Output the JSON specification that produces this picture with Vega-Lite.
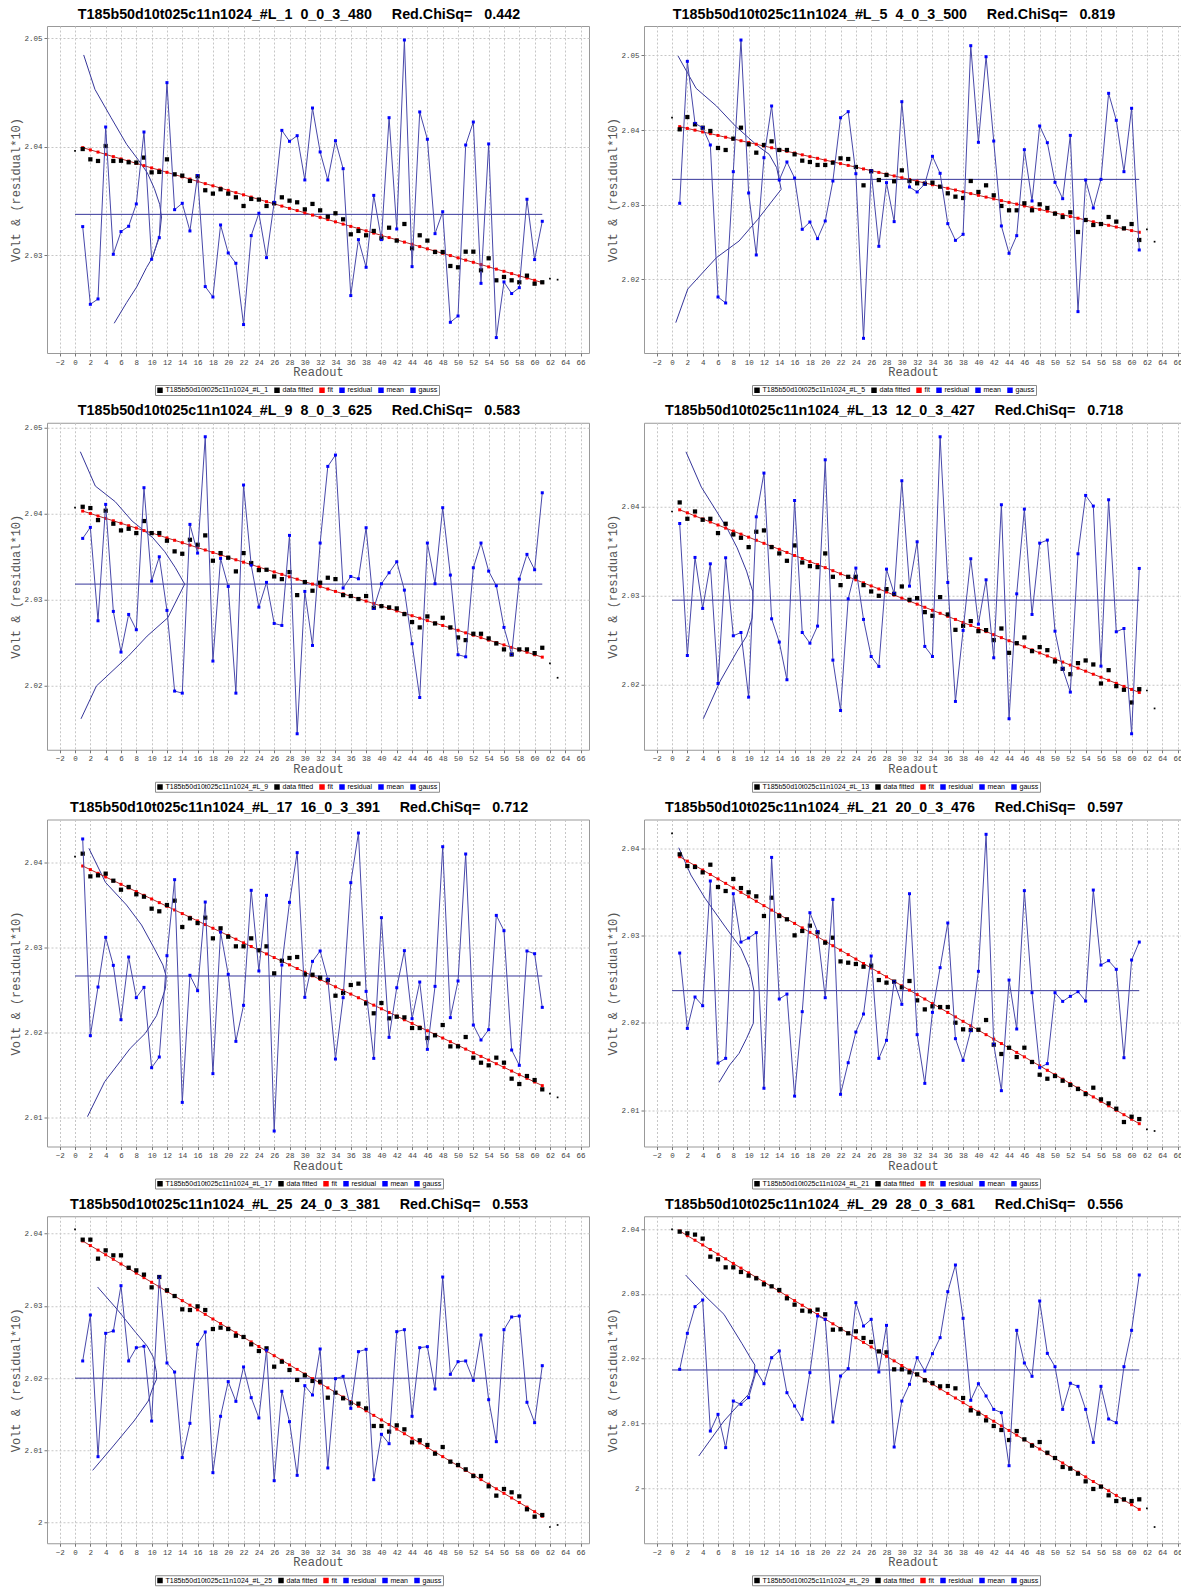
{
"$schema": "https://vega.github.io/schema/vega-lite/v6.json",
"background": "white",
"padding": {"left": 8, "top": 7, "right": 0, "bottom": 0},
"columns": 2,
"spacing": {"row": 69.75, "column": 55},
"bounds": "flush",
"resolve": {"scale": {"color": "independent", "x": "independent", "y": "independent"}, "legend": {"color": "independent"}, "axis": {"x": "independent", "y": "independent"}},
"datasets": {
"p1": [{"x":0,"d":2.0396},{"x":1,"d":2.03978,"f":2.03991,"r":2.03263},{"x":2,"d":2.03883,"f":2.0397,"r":2.02547},{"x":3,"d":2.03868,"f":2.0395,"r":2.02596},{"x":4,"d":2.04006,"f":2.03929,"r":2.04181},{"x":5,"d":2.03868,"f":2.03908,"r":2.03008},{"x":6,"d":2.0387,"f":2.03887,"r":2.03217},{"x":7,"d":2.03856,"f":2.03867,"r":2.03266},{"x":8,"d":2.03853,"f":2.03846,"r":2.03472},{"x":9,"d":2.03899,"f":2.03825,"r":2.04135},{"x":10,"d":2.03763,"f":2.03804,"r":2.02962},{"x":11,"d":2.03767,"f":2.03784,"r":2.03161},{"x":12,"d":2.03883,"f":2.03763,"r":2.0459},{"x":13,"d":2.03745,"f":2.03742,"r":2.03419},{"x":14,"d":2.03733,"f":2.03722,"r":2.03478},{"x":15,"d":2.03684,"f":2.03701,"r":2.03223},{"x":16,"d":2.03727,"f":2.0368,"r":2.03733},{"x":17,"d":2.03598,"f":2.03659,"r":2.0271},{"x":18,"d":2.03567,"f":2.03639,"r":2.02614},{"x":19,"d":2.03607,"f":2.03618,"r":2.03278},{"x":20,"d":2.03567,"f":2.03597,"r":2.0302},{"x":21,"d":2.03533,"f":2.03576,"r":2.02925},{"x":22,"d":2.03453,"f":2.03556,"r":2.0236},{"x":23,"d":2.03518,"f":2.03535,"r":2.0318},{"x":24,"d":2.03512,"f":2.03514,"r":2.03386},{"x":25,"d":2.03453,"f":2.03493,"r":2.02977},{"x":26,"d":2.03478,"f":2.03473,"r":2.03487},{"x":27,"d":2.03533,"f":2.03452,"r":2.0415},{"x":28,"d":2.03502,"f":2.03431,"r":2.04049},{"x":29,"d":2.03487,"f":2.03411,"r":2.04101},{"x":30,"d":2.03422,"f":2.0339,"r":2.03693},{"x":31,"d":2.03472,"f":2.03369,"r":2.04356},{"x":32,"d":2.03413,"f":2.03348,"r":2.03951},{"x":33,"d":2.03355,"f":2.03328,"r":2.03693},{"x":34,"d":2.03386,"f":2.03307,"r":2.04055},{"x":35,"d":2.0333,"f":2.03286,"r":2.03797},{"x":36,"d":2.03192,"f":2.03265,"r":2.02627},{"x":37,"d":2.03223,"f":2.03245,"r":2.03143},{"x":38,"d":2.03183,"f":2.03224,"r":2.02888},{"x":39,"d":2.03223,"f":2.03203,"r":2.03551},{"x":40,"d":2.03155,"f":2.03182,"r":2.03143},{"x":41,"d":2.03253,"f":2.03162,"r":2.04267},{"x":42,"d":2.03134,"f":2.03141,"r":2.03241},{"x":43,"d":2.03287,"f":2.0312,"r":2.04983},{"x":44,"d":2.03063,"f":2.031,"r":2.02894},{"x":45,"d":2.03183,"f":2.03079,"r":2.0432},{"x":46,"d":2.03134,"f":2.03058,"r":2.04068},{"x":47,"d":2.03029,"f":2.03037,"r":2.03198},{"x":48,"d":2.03029,"f":2.03017,"r":2.034},{"x":49,"d":2.029,"f":2.02996,"r":2.02381},{"x":50,"d":2.02888,"f":2.02975,"r":2.02439},{"x":51,"d":2.03032,"f":2.02954,"r":2.04015},{"x":52,"d":2.03032,"f":2.02934,"r":2.04227},{"x":53,"d":2.0286,"f":2.02913,"r":2.0274},{"x":54,"d":2.02971,"f":2.02892,"r":2.04025},{"x":55,"d":2.02768,"f":2.02871,"r":2.0224},{"x":56,"d":2.02799,"f":2.02851,"r":2.02753},{"x":57,"d":2.02768,"f":2.0283,"r":2.02646},{"x":58,"d":2.0275,"f":2.02809,"r":2.027},{"x":59,"d":2.02811,"f":2.02789,"r":2.03515},{"x":60,"d":2.02737,"f":2.02768,"r":2.02959},{"x":61,"d":2.0275,"f":2.02747,"r":2.03312},{"x":62,"d":2.02783},{"x":63,"d":2.02774}],
"p2": [{"x":0,"d":2.04165},{"x":1,"d":2.04009,"f":2.04045,"r":2.03017},{"x":2,"d":2.04174,"f":2.04021,"r":2.04921},{"x":3,"d":2.04076,"f":2.03998,"r":2.04089},{"x":4,"d":2.04031,"f":2.03974,"r":2.04031},{"x":5,"d":2.03987,"f":2.03951,"r":2.03799},{"x":6,"d":2.03759,"f":2.03927,"r":2.0176},{"x":7,"d":2.03732,"f":2.03903,"r":2.0168},{"x":8,"d":2.03884,"f":2.0388,"r":2.03441},{"x":9,"d":2.04031,"f":2.03856,"r":2.05207},{"x":10,"d":2.03808,"f":2.03832,"r":2.03155},{"x":11,"d":2.03696,"f":2.03809,"r":2.02324},{"x":12,"d":2.03799,"f":2.03785,"r":2.03629},{"x":13,"d":2.03848,"f":2.03762,"r":2.04322},{"x":14,"d":2.03732,"f":2.03738,"r":2.03329},{"x":15,"d":2.03732,"f":2.03714,"r":2.03571},{"x":16,"d":2.03674,"f":2.03691,"r":2.03356},{"x":17,"d":2.03589,"f":2.03667,"r":2.02668},{"x":18,"d":2.03571,"f":2.03643,"r":2.02766},{"x":19,"d":2.03531,"f":2.0362,"r":2.02543},{"x":20,"d":2.03531,"f":2.03596,"r":2.0278},{"x":21,"d":2.03562,"f":2.03573,"r":2.03316},{"x":22,"d":2.0362,"f":2.03549,"r":2.04165},{"x":23,"d":2.03611,"f":2.03525,"r":2.04246},{"x":24,"d":2.03504,"f":2.03502,"r":2.03414},{"x":25,"d":2.03258,"f":2.03478,"r":2.01206},{"x":26,"d":2.03446,"f":2.03455,"r":2.0345},{"x":27,"d":2.03329,"f":2.03431,"r":2.0244},{"x":28,"d":2.03397,"f":2.03407,"r":2.03294},{"x":29,"d":2.03312,"f":2.03384,"r":2.02771},{"x":30,"d":2.03459,"f":2.0336,"r":2.0438},{"x":31,"d":2.03316,"f":2.03336,"r":2.03236},{"x":32,"d":2.03285,"f":2.03313,"r":2.03169},{"x":33,"d":2.0328,"f":2.03289,"r":2.03276},{"x":34,"d":2.03294,"f":2.03266,"r":2.03647},{"x":35,"d":2.0324,"f":2.03242,"r":2.03419},{"x":36,"d":2.03151,"f":2.03218,"r":2.02744},{"x":37,"d":2.03106,"f":2.03195,"r":2.0252},{"x":38,"d":2.03088,"f":2.03171,"r":2.02601},{"x":39,"d":2.03316,"f":2.03147,"r":2.05131},{"x":40,"d":2.03169,"f":2.03124,"r":2.03835},{"x":41,"d":2.03258,"f":2.031,"r":2.04983},{"x":42,"d":2.03124,"f":2.03077,"r":2.03852},{"x":43,"d":2.02981,"f":2.03053,"r":2.02713},{"x":44,"d":2.02923,"f":2.03029,"r":2.02346},{"x":45,"d":2.02923,"f":2.03006,"r":2.02583},{"x":46,"d":2.03017,"f":2.02982,"r":2.03736},{"x":47,"d":2.02923,"f":2.02958,"r":2.03048},{"x":48,"d":2.03003,"f":2.02935,"r":2.04054},{"x":49,"d":2.02954,"f":2.02911,"r":2.0383},{"x":50,"d":2.02878,"f":2.02888,"r":2.03298},{"x":51,"d":2.02833,"f":2.02864,"r":2.03079},{"x":52,"d":2.02896,"f":2.0284,"r":2.03928},{"x":53,"d":2.02632,"f":2.02817,"r":2.01564},{"x":54,"d":2.02793,"f":2.02793,"r":2.03329},{"x":55,"d":2.02726,"f":2.02769,"r":2.02954},{"x":56,"d":2.02739,"f":2.02746,"r":2.03338},{"x":57,"d":2.02833,"f":2.02722,"r":2.04492},{"x":58,"d":2.02771,"f":2.02699,"r":2.0413},{"x":59,"d":2.02681,"f":2.02675,"r":2.03441},{"x":60,"d":2.02739,"f":2.02651,"r":2.04291},{"x":61,"d":2.02525,"f":2.02628,"r":2.02391},{"x":62,"d":2.02668},{"x":63,"d":2.02502}],
"p3": [{"x":0,"d":2.0407},{"x":1,"d":2.04081,"f":2.04031,"r":2.03713},{"x":2,"d":2.04066,"f":2.04003,"r":2.03841},{"x":3,"d":2.03926,"f":2.03974,"r":2.02754},{"x":4,"d":2.04035,"f":2.03946,"r":2.04109},{"x":5,"d":2.03884,"f":2.03918,"r":2.02863},{"x":6,"d":2.03806,"f":2.03889,"r":2.0239},{"x":7,"d":2.03825,"f":2.03861,"r":2.02828},{"x":8,"d":2.03775,"f":2.03833,"r":2.0265},{"x":9,"d":2.03915,"f":2.03804,"r":2.04303},{"x":10,"d":2.03775,"f":2.03776,"r":2.03216},{"x":11,"d":2.03775,"f":2.03748,"r":2.03499},{"x":12,"d":2.03686,"f":2.03719,"r":2.02875},{"x":13,"d":2.03562,"f":2.03691,"r":2.01936},{"x":14,"d":2.03534,"f":2.03663,"r":2.01912},{"x":15,"d":2.03697,"f":2.03634,"r":2.03876},{"x":16,"d":2.03639,"f":2.03606,"r":2.03542},{"x":17,"d":2.03748,"f":2.03578,"r":2.04896},{"x":18,"d":2.03453,"f":2.03549,"r":2.02285},{"x":19,"d":2.03542,"f":2.03521,"r":2.0348},{"x":20,"d":2.03488,"f":2.03493,"r":2.03154},{"x":21,"d":2.03329,"f":2.03464,"r":2.01912},{"x":22,"d":2.03542,"f":2.03436,"r":2.04334},{"x":23,"d":2.03426,"f":2.03408,"r":2.03402},{"x":24,"d":2.03344,"f":2.03379,"r":2.02913},{"x":25,"d":2.03348,"f":2.03351,"r":2.03201},{"x":26,"d":2.0327,"f":2.03323,"r":2.02723},{"x":27,"d":2.03239,"f":2.03294,"r":2.027},{"x":28,"d":2.03321,"f":2.03266,"r":2.03748},{"x":29,"d":2.03053,"f":2.03238,"r":2.01439},{"x":30,"d":2.03205,"f":2.03209,"r":2.03096},{"x":31,"d":2.03104,"f":2.03181,"r":2.02467},{"x":32,"d":2.03197,"f":2.03153,"r":2.03659},{"x":33,"d":2.03255,"f":2.03124,"r":2.04551},{"x":34,"d":2.03239,"f":2.03096,"r":2.04683},{"x":35,"d":2.03053,"f":2.03068,"r":2.03135},{"x":36,"d":2.03042,"f":2.03039,"r":2.0327},{"x":37,"d":2.03007,"f":2.03011,"r":2.03243},{"x":38,"d":2.03042,"f":2.02983,"r":2.03837},{"x":39,"d":2.02906,"f":2.02954,"r":2.02898},{"x":40,"d":2.02925,"f":2.02926,"r":2.03185},{"x":41,"d":2.0291,"f":2.02898,"r":2.03313},{"x":42,"d":2.02898,"f":2.02869,"r":2.03441},{"x":43,"d":2.02832,"f":2.02841,"r":2.03111},{"x":44,"d":2.02739,"f":2.02813,"r":2.02487},{"x":45,"d":2.02677,"f":2.02784,"r":2.01861},{"x":46,"d":2.02805,"f":2.02756,"r":2.03659},{"x":47,"d":2.02723,"f":2.02728,"r":2.03185},{"x":48,"d":2.02789,"f":2.02699,"r":2.0407},{"x":49,"d":2.02677,"f":2.02671,"r":2.03286},{"x":50,"d":2.0256,"f":2.02643,"r":2.02359},{"x":51,"d":2.02529,"f":2.02614,"r":2.02335},{"x":52,"d":2.02603,"f":2.02586,"r":2.03371},{"x":53,"d":2.02603,"f":2.02558,"r":2.03659},{"x":54,"d":2.02549,"f":2.02529,"r":2.03332},{"x":55,"d":2.0249,"f":2.02501,"r":2.03162},{"x":56,"d":2.02421,"f":2.02473,"r":2.02677},{"x":57,"d":2.02362,"f":2.02444,"r":2.02362},{"x":58,"d":2.02421,"f":2.02416,"r":2.03239},{"x":59,"d":2.02421,"f":2.02388,"r":2.03527},{"x":60,"d":2.02378,"f":2.02359,"r":2.03348},{"x":61,"d":2.0244,"f":2.02331,"r":2.04244},{"x":62,"d":2.02258},{"x":63,"d":2.02091}],
"p4": [{"x":0,"d":2.03947},{"x":1,"d":2.04049,"f":2.03966,"r":2.03812},{"x":2,"d":2.03865,"f":2.03932,"r":2.02326},{"x":3,"d":2.03947,"f":2.03897,"r":2.0343},{"x":4,"d":2.03854,"f":2.03863,"r":2.02856},{"x":5,"d":2.03865,"f":2.03829,"r":2.03358},{"x":6,"d":2.03704,"f":2.03795,"r":2.02011},{"x":7,"d":2.03809,"f":2.0376,"r":2.03426},{"x":8,"d":2.03689,"f":2.03726,"r":2.02548},{"x":9,"d":2.03651,"f":2.03692,"r":2.02585},{"x":10,"d":2.03546,"f":2.03658,"r":2.01857},{"x":11,"d":2.03719,"f":2.03623,"r":2.03887},{"x":12,"d":2.03734,"f":2.03589,"r":2.04379},{"x":13,"d":2.03546,"f":2.03555,"r":2.02739},{"x":14,"d":2.03475,"f":2.03521,"r":2.02477},{"x":15,"d":2.03392,"f":2.03486,"r":2.02053},{"x":16,"d":2.03565,"f":2.03452,"r":2.04071},{"x":17,"d":2.03373,"f":2.03418,"r":2.02585},{"x":18,"d":2.03332,"f":2.03383,"r":2.02465},{"x":19,"d":2.03321,"f":2.03349,"r":2.02657},{"x":20,"d":2.03475,"f":2.03315,"r":2.04529},{"x":21,"d":2.03212,"f":2.03281,"r":2.02274},{"x":22,"d":2.03118,"f":2.03246,"r":2.01707},{"x":23,"d":2.03212,"f":2.03212,"r":2.02964},{"x":24,"d":2.03212,"f":2.03178,"r":2.0331},{"x":25,"d":2.03118,"f":2.03144,"r":2.02732},{"x":26,"d":2.03047,"f":2.03109,"r":2.02315},{"x":27,"d":2.02998,"f":2.03075,"r":2.02203},{"x":28,"d":2.03073,"f":2.03041,"r":2.03298},{"x":29,"d":2.03021,"f":2.03006,"r":2.03024},{"x":30,"d":2.03103,"f":2.02972,"r":2.04293},{"x":31,"d":2.02953,"f":2.02938,"r":2.03107},{"x":32,"d":2.02972,"f":2.02904,"r":2.03606},{"x":33,"d":2.02814,"f":2.02869,"r":2.02428},{"x":34,"d":2.02773,"f":2.02835,"r":2.02315},{"x":35,"d":2.02983,"f":2.02801,"r":2.04788},{"x":36,"d":2.02788,"f":2.02767,"r":2.03148},{"x":37,"d":2.02615,"f":2.02732,"r":2.01809},{"x":38,"d":2.0266,"f":2.02698,"r":2.02608},{"x":39,"d":2.02713,"f":2.02664,"r":2.03415},{"x":40,"d":2.026,"f":2.02629,"r":2.02679},{"x":41,"d":2.02612,"f":2.02595,"r":2.03178},{"x":42,"d":2.02499,"f":2.02561,"r":2.023},{"x":43,"d":2.0263,"f":2.02527,"r":2.04023},{"x":44,"d":2.02356,"f":2.02492,"r":2.01614},{"x":45,"d":2.02465,"f":2.02458,"r":2.0302},{"x":46,"d":2.02529,"f":2.02424,"r":2.03974},{"x":47,"d":2.02375,"f":2.0239,"r":2.02788},{"x":48,"d":2.0242,"f":2.02355,"r":2.03591},{"x":49,"d":2.02386,"f":2.02321,"r":2.03625},{"x":50,"d":2.02259,"f":2.02287,"r":2.026},{"x":51,"d":2.02176,"f":2.02252,"r":2.02176},{"x":52,"d":2.02116,"f":2.02218,"r":2.01914},{"x":53,"d":2.0224,"f":2.02184,"r":2.03471},{"x":54,"d":2.0227,"f":2.0215,"r":2.04128},{"x":55,"d":2.02225,"f":2.02115,"r":2.04008},{"x":56,"d":2.02011,"f":2.02081,"r":2.02206},{"x":57,"d":2.02161,"f":2.02047,"r":2.04079},{"x":58,"d":2.01981,"f":2.02013,"r":2.02593},{"x":59,"d":2.0194,"f":2.01978,"r":2.0263},{"x":60,"d":2.01797,"f":2.01944,"r":2.01445},{"x":61,"d":2.01947,"f":2.0191,"r":2.03306},{"x":62,"d":2.01932},{"x":63,"d":2.0173}],
"p5": [{"x":0,"d":2.04067},{"x":1,"d":2.04102,"f":2.03957,"r":2.04275},{"x":2,"d":2.03835,"f":2.03914,"r":2.01961},{"x":3,"d":2.03847,"f":2.03871,"r":2.02533},{"x":4,"d":2.03867,"f":2.03828,"r":2.03118},{"x":5,"d":2.03784,"f":2.03785,"r":2.02788},{"x":6,"d":2.03678,"f":2.03742,"r":2.02149},{"x":7,"d":2.0371,"f":2.03699,"r":2.02886},{"x":8,"d":2.03624,"f":2.03656,"r":2.02408},{"x":9,"d":2.03596,"f":2.03612,"r":2.02529},{"x":10,"d":2.03455,"f":2.03569,"r":2.01584},{"x":11,"d":2.03424,"f":2.03526,"r":2.0171},{"x":12,"d":2.03498,"f":2.03483,"r":2.02902},{"x":13,"d":2.03549,"f":2.0344,"r":2.03796},{"x":14,"d":2.03239,"f":2.03397,"r":2.01176},{"x":15,"d":2.03341,"f":2.03354,"r":2.02671},{"x":16,"d":2.03286,"f":2.03311,"r":2.0249},{"x":17,"d":2.03349,"f":2.03268,"r":2.03533},{"x":18,"d":2.03106,"f":2.03225,"r":2.01514},{"x":19,"d":2.03224,"f":2.03182,"r":2.0318},{"x":20,"d":2.03125,"f":2.03139,"r":2.02682},{"x":21,"d":2.03012,"f":2.03096,"r":2.01894},{"x":22,"d":2.03012,"f":2.03053,"r":2.02318},{"x":23,"d":2.03106,"f":2.0301,"r":2.03671},{"x":24,"d":2.02965,"f":2.02966,"r":2.02722},{"x":25,"d":2.03012,"f":2.02923,"r":2.03612},{"x":26,"d":2.02694,"f":2.0288,"r":2.00839},{"x":27,"d":2.02843,"f":2.02837,"r":2.02792},{"x":28,"d":2.02875,"f":2.02794,"r":2.03529},{"x":29,"d":2.02886,"f":2.02751,"r":2.04114},{"x":30,"d":2.02682,"f":2.02708,"r":2.02412},{"x":31,"d":2.02678,"f":2.02665,"r":2.02835},{"x":32,"d":2.02643,"f":2.02622,"r":2.02957},{"x":33,"d":2.02616,"f":2.02579,"r":2.02624},{"x":34,"d":2.02431,"f":2.02536,"r":2.01686},{"x":35,"d":2.02463,"f":2.02493,"r":2.02408},{"x":36,"d":2.02557,"f":2.0245,"r":2.03761},{"x":37,"d":2.02573,"f":2.02407,"r":2.04345},{"x":38,"d":2.02341,"f":2.02363,"r":2.02482},{"x":39,"d":2.02224,"f":2.0232,"r":2.01694},{"x":40,"d":2.02345,"f":2.02277,"r":2.03349},{"x":41,"d":2.02165,"f":2.02234,"r":2.01941},{"x":42,"d":2.02184,"f":2.02191,"r":2.02525},{"x":43,"d":2.02176,"f":2.02148,"r":2.02961},{"x":44,"d":2.02051,"f":2.02105,"r":2.02161},{"x":45,"d":2.02051,"f":2.02062,"r":2.02592},{"x":46,"d":2.01933,"f":2.02019,"r":2.018},{"x":47,"d":2.01965,"f":2.01976,"r":2.02541},{"x":48,"d":2.02086,"f":2.01933,"r":2.04184},{"x":49,"d":2.01835,"f":2.0189,"r":2.02173},{"x":50,"d":2.01835,"f":2.01847,"r":2.02604},{"x":51,"d":2.01945,"f":2.01803,"r":2.04098},{"x":52,"d":2.01702,"f":2.0176,"r":2.02086},{"x":53,"d":2.01643,"f":2.01717,"r":2.0191},{"x":54,"d":2.01612,"f":2.01674,"r":2.02031},{"x":55,"d":2.01702,"f":2.01631,"r":2.03376},{"x":56,"d":2.01643,"f":2.01588,"r":2.03196},{"x":57,"d":2.01455,"f":2.01545,"r":2.01792},{"x":58,"d":2.01392,"f":2.01502,"r":2.01612},{"x":59,"d":2.01486,"f":2.01459,"r":2.02957},{"x":60,"d":2.01439,"f":2.01416,"r":2.02925},{"x":61,"d":2.01329,"f":2.01373,"r":2.02294},{"x":62,"d":2.01278},{"x":63,"d":2.01235}],
"p6": [{"x":0,"d":2.04176},{"x":1,"d":2.03935,"f":2.03908,"r":2.02802},{"x":2,"d":2.03801,"f":2.03857,"r":2.01937},{"x":3,"d":2.0379,"f":2.03806,"r":2.02297},{"x":4,"d":2.03728,"f":2.03755,"r":2.02197},{"x":5,"d":2.03816,"f":2.03704,"r":2.03629},{"x":6,"d":2.0356,"f":2.03653,"r":2.01539},{"x":7,"d":2.03514,"f":2.03602,"r":2.01593},{"x":8,"d":2.03652,"f":2.0355,"r":2.03483},{"x":9,"d":2.03548,"f":2.03499,"r":2.02928},{"x":10,"d":2.03499,"f":2.03448,"r":2.02974},{"x":11,"d":2.03453,"f":2.03397,"r":2.03036},{"x":12,"d":2.03227,"f":2.03346,"r":2.0125},{"x":13,"d":2.03437,"f":2.03295,"r":2.039},{"x":14,"d":2.03227,"f":2.03244,"r":2.02274},{"x":15,"d":2.03189,"f":2.03193,"r":2.02331},{"x":16,"d":2.03005,"f":2.03142,"r":2.0116},{"x":17,"d":2.03055,"f":2.03091,"r":2.02129},{"x":18,"d":2.03116,"f":2.0304,"r":2.03265},{"x":19,"d":2.0304,"f":2.02989,"r":2.03047},{"x":20,"d":2.02921,"f":2.02938,"r":2.02289},{"x":21,"d":2.02978,"f":2.02886,"r":2.03418},{"x":22,"d":2.02706,"f":2.02835,"r":2.0118},{"x":23,"d":2.02691,"f":2.02784,"r":2.01543},{"x":24,"d":2.02676,"f":2.02733,"r":2.01895},{"x":25,"d":2.02645,"f":2.02682,"r":2.02102},{"x":26,"d":2.02657,"f":2.02631,"r":2.02768},{"x":27,"d":2.02492,"f":2.0258,"r":2.01593},{"x":28,"d":2.02462,"f":2.02529,"r":2.018},{"x":29,"d":2.02473,"f":2.02478,"r":2.02473},{"x":30,"d":2.02408,"f":2.02427,"r":2.02213},{"x":31,"d":2.02481,"f":2.02376,"r":2.03483},{"x":32,"d":2.02259,"f":2.02325,"r":2.01865},{"x":33,"d":2.02155,"f":2.02274,"r":2.01306},{"x":34,"d":2.0219,"f":2.02222,"r":2.02121},{"x":35,"d":2.02182,"f":2.02171,"r":2.02634},{"x":36,"d":2.02182,"f":2.0212,"r":2.03147},{"x":37,"d":2.02002,"f":2.02069,"r":2.01819},{"x":38,"d":2.01926,"f":2.02018,"r":2.0157},{"x":39,"d":2.01918,"f":2.01967,"r":2.01914},{"x":40,"d":2.01922,"f":2.01916,"r":2.02592},{"x":41,"d":2.02033,"f":2.01865,"r":2.04165},{"x":42,"d":2.0175,"f":2.01814,"r":2.01754},{"x":43,"d":2.01643,"f":2.01763,"r":2.01222},{"x":44,"d":2.01715,"f":2.01712,"r":2.02492},{"x":45,"d":2.01608,"f":2.01661,"r":2.0193},{"x":46,"d":2.01715,"f":2.0161,"r":2.03518},{"x":47,"d":2.01551,"f":2.01558,"r":2.02347},{"x":48,"d":2.01405,"f":2.01507,"r":2.01486},{"x":49,"d":2.01359,"f":2.01456,"r":2.01532},{"x":50,"d":2.0139,"f":2.01405,"r":2.02347},{"x":51,"d":2.01336,"f":2.01354,"r":2.02247},{"x":52,"d":2.01287,"f":2.01303,"r":2.02305},{"x":53,"d":2.01241,"f":2.01252,"r":2.02358},{"x":54,"d":2.01183,"f":2.01201,"r":2.02251},{"x":55,"d":2.01256,"f":2.0115,"r":2.03525},{"x":56,"d":2.01122,"f":2.01099,"r":2.02664},{"x":57,"d":2.01076,"f":2.01048,"r":2.02714},{"x":58,"d":2.01015,"f":2.00997,"r":2.02615},{"x":59,"d":2.00862,"f":2.00946,"r":2.016},{"x":60,"d":2.00923,"f":2.00894,"r":2.02722},{"x":61,"d":2.00896,"f":2.00843,"r":2.02928},{"x":62,"d":2.00778},{"x":63,"d":2.00759}],
"p7": [{"x":0,"d":2.0406},{"x":1,"d":2.03917,"f":2.03899,"r":2.02238},{"x":2,"d":2.03917,"f":2.03835,"r":2.02874},{"x":3,"d":2.03654,"f":2.03772,"r":2.00913},{"x":4,"d":2.03769,"f":2.03708,"r":2.02621},{"x":5,"d":2.037,"f":2.03645,"r":2.02653},{"x":6,"d":2.037,"f":2.03581,"r":2.0328},{"x":7,"d":2.03529,"f":2.03518,"r":2.02238},{"x":8,"d":2.03492,"f":2.03454,"r":2.02422},{"x":9,"d":2.03433,"f":2.03391,"r":2.02441},{"x":10,"d":2.03257,"f":2.03327,"r":2.01407},{"x":11,"d":2.034,"f":2.03264,"r":2.034},{"x":12,"d":2.03216,"f":2.032,"r":2.0221},{"x":13,"d":2.03137,"f":2.03137,"r":2.02085},{"x":14,"d":2.02953,"f":2.03073,"r":2.009},{"x":15,"d":2.02943,"f":2.0301,"r":2.01375},{"x":16,"d":2.02994,"f":2.02946,"r":2.02468},{"x":17,"d":2.02943,"f":2.02883,"r":2.02639},{"x":18,"d":2.0268,"f":2.02819,"r":2.00692},{"x":19,"d":2.02699,"f":2.02756,"r":2.01472},{"x":20,"d":2.0268,"f":2.02692,"r":2.01952},{"x":21,"d":2.02588,"f":2.02629,"r":2.01679},{"x":22,"d":2.0257,"f":2.02565,"r":2.02155},{"x":23,"d":2.02468,"f":2.02502,"r":2.0173},{"x":24,"d":2.02376,"f":2.02438,"r":2.01449},{"x":25,"d":2.02413,"f":2.02375,"r":2.0239},{"x":26,"d":2.02159,"f":2.02311,"r":2.00581},{"x":27,"d":2.02228,"f":2.02248,"r":2.01818},{"x":28,"d":2.02113,"f":2.02184,"r":2.01398},{"x":29,"d":2.01975,"f":2.02121,"r":2.00655},{"x":30,"d":2.02039,"f":2.02057,"r":2.01896},{"x":31,"d":2.01961,"f":2.01993,"r":2.01767},{"x":32,"d":2.01952,"f":2.0193,"r":2.02404},{"x":33,"d":2.0173,"f":2.01866,"r":2.00757},{"x":34,"d":2.01799,"f":2.01803,"r":2.01993},{"x":35,"d":2.01721,"f":2.01739,"r":2.02025},{"x":36,"d":2.01656,"f":2.01676,"r":2.01582},{"x":37,"d":2.01647,"f":2.01612,"r":2.02367},{"x":38,"d":2.01582,"f":2.01549,"r":2.02399},{"x":39,"d":2.01338,"f":2.01485,"r":2.00595},{"x":40,"d":2.01338,"f":2.01422,"r":2.01223},{"x":41,"d":2.0126,"f":2.01358,"r":2.01093},{"x":42,"d":2.01347,"f":2.01295,"r":2.02644},{"x":43,"d":2.01292,"f":2.01231,"r":2.02671},{"x":44,"d":2.01112,"f":2.01168,"r":2.01472},{"x":45,"d":2.0114,"f":2.01104,"r":2.02422},{"x":46,"d":2.01075,"f":2.01041,"r":2.02436},{"x":47,"d":2.00955,"f":2.00977,"r":2.0185},{"x":48,"d":2.01047,"f":2.00914,"r":2.034},{"x":49,"d":2.00844,"f":2.0085,"r":2.02053},{"x":50,"d":2.00798,"f":2.00787,"r":2.02228},{"x":51,"d":2.00738,"f":2.00723,"r":2.02238},{"x":52,"d":2.00646,"f":2.0066,"r":2.0197},{"x":53,"d":2.00646,"f":2.00596,"r":2.02597},{"x":54,"d":2.00503,"f":2.00533,"r":2.01702},{"x":55,"d":2.00374,"f":2.00469,"r":2.01121},{"x":56,"d":2.00466,"f":2.00406,"r":2.02671},{"x":57,"d":2.0042,"f":2.00342,"r":2.02847},{"x":58,"d":2.00364,"f":2.00279,"r":2.0286},{"x":59,"d":2.00185,"f":2.00215,"r":2.01666},{"x":60,"d":2.00083,"f":2.00152,"r":2.01384},{"x":61,"d":2.00106,"f":2.00088,"r":2.02173},{"x":62,"d":1.9994},{"x":63,"d":1.99968}],
"p8": [{"x":0,"d":2.04},{"x":1,"d":2.03964,"f":2.03974,"r":2.01835},{"x":2,"d":2.03938,"f":2.03902,"r":2.02392},{"x":3,"d":2.03918,"f":2.03831,"r":2.02804},{"x":4,"d":2.03856,"f":2.03759,"r":2.02907},{"x":5,"d":2.03577,"f":2.03687,"r":2.00881},{"x":6,"d":2.03536,"f":2.03615,"r":2.01139},{"x":7,"d":2.03412,"f":2.03544,"r":2.00624},{"x":8,"d":2.03412,"f":2.03472,"r":2.01345},{"x":9,"d":2.0334,"f":2.034,"r":2.01294},{"x":10,"d":2.03284,"f":2.03328,"r":2.01397},{"x":11,"d":2.03242,"f":2.03257,"r":2.01809},{"x":12,"d":2.0315,"f":2.03185,"r":2.01613},{"x":13,"d":2.03119,"f":2.03113,"r":2.02015},{"x":14,"d":2.03062,"f":2.03042,"r":2.02119},{"x":15,"d":2.02933,"f":2.0297,"r":2.01474},{"x":16,"d":2.02835,"f":2.02898,"r":2.01268},{"x":17,"d":2.02742,"f":2.02826,"r":2.01062},{"x":18,"d":2.02732,"f":2.02755,"r":2.01784},{"x":19,"d":2.02758,"f":2.02683,"r":2.0266},{"x":20,"d":2.02686,"f":2.02611,"r":2.02608},{"x":21,"d":2.02448,"f":2.02539,"r":2.01021},{"x":22,"d":2.02454,"f":2.02468,"r":2.01732},{"x":23,"d":2.02392,"f":2.02396,"r":2.01845},{"x":24,"d":2.02423,"f":2.02324,"r":2.02866},{"x":25,"d":2.0232,"f":2.02252,"r":2.02505},{"x":26,"d":2.02258,"f":2.02181,"r":2.02608},{"x":27,"d":2.02113,"f":2.02109,"r":2.01794},{"x":28,"d":2.02098,"f":2.02037,"r":2.02515},{"x":29,"d":2.01835,"f":2.01966,"r":2.00634},{"x":30,"d":2.01835,"f":2.01894,"r":2.01345},{"x":31,"d":2.01789,"f":2.01822,"r":2.01603},{"x":32,"d":2.01758,"f":2.0175,"r":2.02015},{"x":33,"d":2.01665,"f":2.01679,"r":2.01809},{"x":34,"d":2.01624,"f":2.01607,"r":2.02077},{"x":35,"d":2.01572,"f":2.01535,"r":2.02325},{"x":36,"d":2.01577,"f":2.01463,"r":2.03036},{"x":37,"d":2.01541,"f":2.01392,"r":2.03448},{"x":38,"d":2.01392,"f":2.0132,"r":2.02624},{"x":39,"d":2.01201,"f":2.01248,"r":2.01356},{"x":40,"d":2.0115,"f":2.01176,"r":2.01613},{"x":41,"d":2.01046,"f":2.01105,"r":2.01423},{"x":42,"d":2.00959,"f":2.01033,"r":2.01216},{"x":43,"d":2.00897,"f":2.00961,"r":2.01165},{"x":44,"d":2.00742,"f":2.0089,"r":2.00345},{"x":45,"d":2.00881,"f":2.00818,"r":2.02438},{"x":46,"d":2.00753,"f":2.00746,"r":2.01933},{"x":47,"d":2.00655,"f":2.00674,"r":2.01727},{"x":48,"d":2.00711,"f":2.00603,"r":2.02892},{"x":49,"d":2.00546,"f":2.00531,"r":2.02082},{"x":50,"d":2.00464,"f":2.00459,"r":2.01876},{"x":51,"d":2.00325,"f":2.00387,"r":2.01216},{"x":52,"d":2.00299,"f":2.00316,"r":2.01619},{"x":53,"d":2.00222,"f":2.00244,"r":2.01572},{"x":54,"d":2.00103,"f":2.00172,"r":2.01216},{"x":55,"d":1.99985,"f":2.001,"r":2.00706},{"x":56,"d":2.00021,"f":2.00029,"r":2.01572},{"x":57,"d":1.99887,"f":1.99957,"r":2.01067},{"x":58,"d":1.99799,"f":1.99885,"r":2.0101},{"x":59,"d":1.99825,"f":1.99813,"r":2.01876},{"x":60,"d":1.99799,"f":1.99742,"r":2.02438},{"x":61,"d":1.99825,"f":1.9967,"r":2.03294},{"x":62,"d":1.99686},{"x":63,"d":1.99397}],
"g1": [{"i":0,"x":1.13,"v":2.04845},{"i":1,"x":2.6,"v":2.04528},{"i":2,"x":4.71,"v":2.04267},{"i":3,"x":6.73,"v":2.04022},{"i":4,"x":8.3,"v":2.03874},{"i":5,"x":9.43,"v":2.0376},{"i":6,"x":10.36,"v":2.03613},{"i":7,"x":11.05,"v":2.03469},{"i":8,"x":11.29,"v":2.03352},{"i":9,"x":11.05,"v":2.03192},{"i":10,"x":10.16,"v":2.02983},{"i":11,"x":9.33,"v":2.02885},{"i":12,"x":8.05,"v":2.02707},{"i":13,"x":6.73,"v":2.02562},{"i":14,"x":5.11,"v":2.02372}],
"g2": [{"i":0,"x":0.79,"v":2.04992},{"i":1,"x":3.14,"v":2.04559},{"i":2,"x":5.8,"v":2.04322},{"i":3,"x":8.26,"v":2.04054},{"i":4,"x":9.73,"v":2.0392},{"i":5,"x":11.2,"v":2.03785},{"i":6,"x":12.68,"v":2.03674},{"i":7,"x":13.66,"v":2.03495},{"i":8,"x":14.25,"v":2.03204},{"i":9,"x":11.2,"v":2.02802},{"i":10,"x":8.75,"v":2.02511},{"i":11,"x":5.8,"v":2.02288},{"i":12,"x":2.06,"v":2.01868},{"i":13,"x":0.49,"v":2.01416}],
"g3": [{"i":0,"x":0.69,"v":2.04722},{"i":1,"x":2.65,"v":2.04322},{"i":2,"x":5.25,"v":2.0414},{"i":3,"x":7.45,"v":2.03915},{"i":4,"x":10.15,"v":2.03721},{"i":5,"x":11.72,"v":2.03558},{"i":6,"x":13.1,"v":2.03371},{"i":7,"x":14.31,"v":2.03181},{"i":8,"x":12.11,"v":2.02789},{"i":9,"x":9.41,"v":2.02576},{"i":10,"x":6.96,"v":2.02343},{"i":11,"x":2.79,"v":2.01995},{"i":12,"x":0.78,"v":2.01613}],
"g4": [{"i":0,"x":1.82,"v":2.04619},{"i":1,"x":3.83,"v":2.04221},{"i":2,"x":5.8,"v":2.03951},{"i":3,"x":7.27,"v":2.03745},{"i":4,"x":8.5,"v":2.03538},{"i":5,"x":9.73,"v":2.03276},{"i":6,"x":10.52,"v":2.03051},{"i":7,"x":10.57,"v":2.02949},{"i":8,"x":10.47,"v":2.0275},{"i":9,"x":9.73,"v":2.02544},{"i":10,"x":8.5,"v":2.02375},{"i":11,"x":6.29,"v":2.02038},{"i":12,"x":4.08,"v":2.01614}],
"g5": [{"i":0,"x":1.81,"v":2.04165},{"i":1,"x":3.97,"v":2.03765},{"i":2,"x":6.72,"v":2.03498},{"i":3,"x":8.68,"v":2.03263},{"i":4,"x":10.39,"v":2.0298},{"i":5,"x":11.47,"v":2.02792},{"i":6,"x":11.91,"v":2.02655},{"i":7,"x":11.81,"v":2.02518},{"i":8,"x":10.64,"v":2.02196},{"i":9,"x":9.17,"v":2.01988},{"i":10,"x":7.21,"v":2.01812},{"i":11,"x":3.87,"v":2.0142},{"i":12,"x":1.62,"v":2.01008}],
"g6": [{"i":0,"x":0.88,"v":2.04011},{"i":1,"x":2.46,"v":2.03698},{"i":2,"x":4.32,"v":2.0343},{"i":3,"x":6.78,"v":2.03124},{"i":4,"x":8.99,"v":2.02856},{"i":5,"x":10.12,"v":2.02626},{"i":6,"x":10.71,"v":2.02358},{"i":7,"x":10.61,"v":2.01995},{"i":8,"x":9.73,"v":2.01822},{"i":9,"x":8.75,"v":2.0165},{"i":10,"x":7.52,"v":2.01516},{"i":11,"x":6.14,"v":2.01317}],
"g7": [{"i":0,"x":2.94,"v":2.03262},{"i":1,"x":5.49,"v":2.02953},{"i":2,"x":7.94,"v":2.0263},{"i":3,"x":9.41,"v":2.02445},{"i":4,"x":10.25,"v":2.02284},{"i":5,"x":10.64,"v":2.02076},{"i":6,"x":10.64,"v":2.01984},{"i":7,"x":10.15,"v":2.01869},{"i":8,"x":9.56,"v":2.01684},{"i":9,"x":7.7,"v":2.01407},{"i":10,"x":5.0,"v":2.01061},{"i":11,"x":2.3,"v":2.00724}],
"g8": [{"i":0,"x":1.77,"v":2.03294},{"i":1,"x":4.32,"v":2.02969},{"i":2,"x":6.78,"v":2.02686},{"i":3,"x":9.14,"v":2.02232},{"i":4,"x":10.22,"v":2.02015},{"i":5,"x":10.81,"v":2.01902},{"i":6,"x":10.71,"v":2.01732},{"i":7,"x":9.98,"v":2.01448},{"i":8,"x":8.75,"v":2.01294},{"i":9,"x":6.78,"v":2.01036},{"i":10,"x":3.49,"v":2.00495}]
},
"concat": [
{"width": 542, "height": 327, "title": {"text": "T185b50d10t025c11n1024_#L_1\u00a0 0_0_3_480\u00a0\u00a0\u00a0\u00a0 Red.ChiSq=\u00a0\u00a0 0.442"},
 "layer": [
  {"data": {"name": "g1"}, "mark": {"type": "line", "color": "#36369a", "strokeWidth": 1},
   "encoding": {"x": {"field": "x", "type": "quantitative", "scale": {"domain": [-3.66, 67.1], "nice": false, "zero": false}, "axis": {"title": "Readout", "labelOverlap": false, "tickCount": 40, "values": [-2,0,2,4,6,8,10,12,14,16,18,20,22,24,26,28,30,32,34,36,38,40,42,44,46,48,50,52,54,56,58,60,62,64,66]}},
    "y": {"field": "v", "type": "quantitative", "scale": {"domain": [2.02098, 2.05112], "nice": false, "zero": false}, "axis": {"title": "Volt & (residual*10)", "labelOverlap": false, "tickCount": 20, "values": [2, 2.01, 2.02, 2.03, 2.04, 2.05], "format": ".2~f"}},
    "order": {"field": "i", "type": "quantitative"}}},
  {"data": {"values": [{"x": 0, "x2": 61, "v": 2.03376}]}, "mark": {"type": "rule", "color": "#36369a", "strokeWidth": 1}, "encoding": {"x": {"field": "x", "type": "quantitative"}, "x2": {"field": "x2"}, "y": {"field": "v", "type": "quantitative"}}},
  {"data": {"name": "p1"}, "mark": {"type": "line", "color": "#b02a2a", "strokeWidth": 1}, "encoding": {"x": {"field": "x", "type": "quantitative"}, "y": {"field": "f", "type": "quantitative"}}},
  {"data": {"name": "p1"}, "mark": {"type": "square", "color": "#ff0000", "size": 9, "opacity": 1}, "encoding": {"x": {"field": "x", "type": "quantitative"}, "y": {"field": "f", "type": "quantitative"}}},
  {"data": {"name": "p1"}, "transform": [{"filter": "isValid(datum.f)"}], "mark": {"type": "square", "size": 18, "opacity": 1}, "encoding": {"x": {"field": "x", "type": "quantitative"}, "y": {"field": "d", "type": "quantitative"}, "color": {"datum": "data fitted", "type": "nominal", "scale": {"domain": ["T185b50d10t025c11n1024_#L_1", "data fitted", "fit", "residual", "mean", "gauss"], "range": ["#000000", "#000000", "#ff0000", "#0000ff", "#0000ff", "#0000ff"]}, "legend": {"title": null, "orient": "none", "legendX": 108, "legendY": 359, "direction": "horizontal"}}}},
  {"data": {"name": "p1"}, "mark": {"type": "line", "color": "#4848aa", "strokeWidth": 1}, "encoding": {"x": {"field": "x", "type": "quantitative"}, "y": {"field": "r", "type": "quantitative"}}},
  {"data": {"name": "p1"}, "mark": {"type": "square", "color": "#0000ff", "size": 9, "opacity": 1}, "encoding": {"x": {"field": "x", "type": "quantitative"}, "y": {"field": "r", "type": "quantitative"}}},
  {"data": {"name": "p1"}, "mark": {"type": "square", "color": "#000000", "size": 3, "opacity": 1}, "encoding": {"x": {"field": "x", "type": "quantitative"}, "y": {"field": "d", "type": "quantitative"}}}
 ]},
{"width": 538, "height": 327, "title": {"text": "T185b50d10t025c11n1024_#L_5\u00a0 4_0_3_500\u00a0\u00a0\u00a0\u00a0 Red.ChiSq=\u00a0\u00a0 0.819"},
 "layer": [
  {"data": {"name": "g2"}, "mark": {"type": "line", "color": "#36369a", "strokeWidth": 1},
   "encoding": {"x": {"field": "x", "type": "quantitative", "scale": {"domain": [-3.66, 66.58], "nice": false, "zero": false}, "axis": {"title": "Readout", "labelOverlap": false, "tickCount": 40, "values": [-2,0,2,4,6,8,10,12,14,16,18,20,22,24,26,28,30,32,34,36,38,40,42,44,46,48,50,52,54,56,58,60,62,64,66]}},
    "y": {"field": "v", "type": "quantitative", "scale": {"domain": [2.01009, 2.05395], "nice": false, "zero": false}, "axis": {"title": "Volt & (residual*10)", "labelOverlap": false, "tickCount": 20, "values": [2, 2.01, 2.02, 2.03, 2.04, 2.05], "format": ".2~f"}},
    "order": {"field": "i", "type": "quantitative"}}},
  {"data": {"values": [{"x": 0, "x2": 61, "v": 2.03338}]}, "mark": {"type": "rule", "color": "#36369a", "strokeWidth": 1}, "encoding": {"x": {"field": "x", "type": "quantitative"}, "x2": {"field": "x2"}, "y": {"field": "v", "type": "quantitative"}}},
  {"data": {"name": "p2"}, "mark": {"type": "line", "color": "#b02a2a", "strokeWidth": 1}, "encoding": {"x": {"field": "x", "type": "quantitative"}, "y": {"field": "f", "type": "quantitative"}}},
  {"data": {"name": "p2"}, "mark": {"type": "square", "color": "#ff0000", "size": 9, "opacity": 1}, "encoding": {"x": {"field": "x", "type": "quantitative"}, "y": {"field": "f", "type": "quantitative"}}},
  {"data": {"name": "p2"}, "transform": [{"filter": "isValid(datum.f)"}], "mark": {"type": "square", "size": 18, "opacity": 1}, "encoding": {"x": {"field": "x", "type": "quantitative"}, "y": {"field": "d", "type": "quantitative"}, "color": {"datum": "data fitted", "type": "nominal", "scale": {"domain": ["T185b50d10t025c11n1024_#L_5", "data fitted", "fit", "residual", "mean", "gauss"], "range": ["#000000", "#000000", "#ff0000", "#0000ff", "#0000ff", "#0000ff"]}, "legend": {"title": null, "orient": "none", "legendX": 108, "legendY": 359, "direction": "horizontal"}}}},
  {"data": {"name": "p2"}, "mark": {"type": "line", "color": "#4848aa", "strokeWidth": 1}, "encoding": {"x": {"field": "x", "type": "quantitative"}, "y": {"field": "r", "type": "quantitative"}}},
  {"data": {"name": "p2"}, "mark": {"type": "square", "color": "#0000ff", "size": 9, "opacity": 1}, "encoding": {"x": {"field": "x", "type": "quantitative"}, "y": {"field": "r", "type": "quantitative"}}},
  {"data": {"name": "p2"}, "mark": {"type": "square", "color": "#000000", "size": 3, "opacity": 1}, "encoding": {"x": {"field": "x", "type": "quantitative"}, "y": {"field": "d", "type": "quantitative"}}}
 ]},
{"width": 542, "height": 327, "title": {"text": "T185b50d10t025c11n1024_#L_9\u00a0 8_0_3_625\u00a0\u00a0\u00a0\u00a0 Red.ChiSq=\u00a0\u00a0 0.583"},
 "layer": [
  {"data": {"name": "g3"}, "mark": {"type": "line", "color": "#36369a", "strokeWidth": 1},
   "encoding": {"x": {"field": "x", "type": "quantitative", "scale": {"domain": [-3.66, 67.1], "nice": false, "zero": false}, "axis": {"title": "Readout", "labelOverlap": false, "tickCount": 40, "values": [-2,0,2,4,6,8,10,12,14,16,18,20,22,24,26,28,30,32,34,36,38,40,42,44,46,48,50,52,54,56,58,60,62,64,66]}},
    "y": {"field": "v", "type": "quantitative", "scale": {"domain": [2.01253, 2.05059], "nice": false, "zero": false}, "axis": {"title": "Volt & (residual*10)", "labelOverlap": false, "tickCount": 20, "values": [2, 2.01, 2.02, 2.03, 2.04, 2.05], "format": ".2~f"}},
    "order": {"field": "i", "type": "quantitative"}}},
  {"data": {"values": [{"x": 0, "x2": 61, "v": 2.03181}]}, "mark": {"type": "rule", "color": "#36369a", "strokeWidth": 1}, "encoding": {"x": {"field": "x", "type": "quantitative"}, "x2": {"field": "x2"}, "y": {"field": "v", "type": "quantitative"}}},
  {"data": {"name": "p3"}, "mark": {"type": "line", "color": "#b02a2a", "strokeWidth": 1}, "encoding": {"x": {"field": "x", "type": "quantitative"}, "y": {"field": "f", "type": "quantitative"}}},
  {"data": {"name": "p3"}, "mark": {"type": "square", "color": "#ff0000", "size": 9, "opacity": 1}, "encoding": {"x": {"field": "x", "type": "quantitative"}, "y": {"field": "f", "type": "quantitative"}}},
  {"data": {"name": "p3"}, "transform": [{"filter": "isValid(datum.f)"}], "mark": {"type": "square", "size": 18, "opacity": 1}, "encoding": {"x": {"field": "x", "type": "quantitative"}, "y": {"field": "d", "type": "quantitative"}, "color": {"datum": "data fitted", "type": "nominal", "scale": {"domain": ["T185b50d10t025c11n1024_#L_9", "data fitted", "fit", "residual", "mean", "gauss"], "range": ["#000000", "#000000", "#ff0000", "#0000ff", "#0000ff", "#0000ff"]}, "legend": {"title": null, "orient": "none", "legendX": 108, "legendY": 359, "direction": "horizontal"}}}},
  {"data": {"name": "p3"}, "mark": {"type": "line", "color": "#4848aa", "strokeWidth": 1}, "encoding": {"x": {"field": "x", "type": "quantitative"}, "y": {"field": "r", "type": "quantitative"}}},
  {"data": {"name": "p3"}, "mark": {"type": "square", "color": "#0000ff", "size": 9, "opacity": 1}, "encoding": {"x": {"field": "x", "type": "quantitative"}, "y": {"field": "r", "type": "quantitative"}}},
  {"data": {"name": "p3"}, "mark": {"type": "square", "color": "#000000", "size": 3, "opacity": 1}, "encoding": {"x": {"field": "x", "type": "quantitative"}, "y": {"field": "d", "type": "quantitative"}}}
 ]},
{"width": 538, "height": 327, "title": {"text": "T185b50d10t025c11n1024_#L_13\u00a0 12_0_3_427\u00a0\u00a0\u00a0\u00a0 Red.ChiSq=\u00a0\u00a0 0.718"},
 "layer": [
  {"data": {"name": "g4"}, "mark": {"type": "line", "color": "#36369a", "strokeWidth": 1},
   "encoding": {"x": {"field": "x", "type": "quantitative", "scale": {"domain": [-3.66, 66.58], "nice": false, "zero": false}, "axis": {"title": "Readout", "labelOverlap": false, "tickCount": 40, "values": [-2,0,2,4,6,8,10,12,14,16,18,20,22,24,26,28,30,32,34,36,38,40,42,44,46,48,50,52,54,56,58,60,62,64,66]}},
    "y": {"field": "v", "type": "quantitative", "scale": {"domain": [2.01265, 2.04946], "nice": false, "zero": false}, "axis": {"title": "Volt & (residual*10)", "labelOverlap": false, "tickCount": 20, "values": [2, 2.01, 2.02, 2.03, 2.04, 2.05], "format": ".2~f"}},
    "order": {"field": "i", "type": "quantitative"}}},
  {"data": {"values": [{"x": 0, "x2": 61, "v": 2.02949}]}, "mark": {"type": "rule", "color": "#36369a", "strokeWidth": 1}, "encoding": {"x": {"field": "x", "type": "quantitative"}, "x2": {"field": "x2"}, "y": {"field": "v", "type": "quantitative"}}},
  {"data": {"name": "p4"}, "mark": {"type": "line", "color": "#b02a2a", "strokeWidth": 1}, "encoding": {"x": {"field": "x", "type": "quantitative"}, "y": {"field": "f", "type": "quantitative"}}},
  {"data": {"name": "p4"}, "mark": {"type": "square", "color": "#ff0000", "size": 9, "opacity": 1}, "encoding": {"x": {"field": "x", "type": "quantitative"}, "y": {"field": "f", "type": "quantitative"}}},
  {"data": {"name": "p4"}, "transform": [{"filter": "isValid(datum.f)"}], "mark": {"type": "square", "size": 18, "opacity": 1}, "encoding": {"x": {"field": "x", "type": "quantitative"}, "y": {"field": "d", "type": "quantitative"}, "color": {"datum": "data fitted", "type": "nominal", "scale": {"domain": ["T185b50d10t025c11n1024_#L_13", "data fitted", "fit", "residual", "mean", "gauss"], "range": ["#000000", "#000000", "#ff0000", "#0000ff", "#0000ff", "#0000ff"]}, "legend": {"title": null, "orient": "none", "legendX": 108, "legendY": 359, "direction": "horizontal"}}}},
  {"data": {"name": "p4"}, "mark": {"type": "line", "color": "#4848aa", "strokeWidth": 1}, "encoding": {"x": {"field": "x", "type": "quantitative"}, "y": {"field": "r", "type": "quantitative"}}},
  {"data": {"name": "p4"}, "mark": {"type": "square", "color": "#0000ff", "size": 9, "opacity": 1}, "encoding": {"x": {"field": "x", "type": "quantitative"}, "y": {"field": "r", "type": "quantitative"}}},
  {"data": {"name": "p4"}, "mark": {"type": "square", "color": "#000000", "size": 3, "opacity": 1}, "encoding": {"x": {"field": "x", "type": "quantitative"}, "y": {"field": "d", "type": "quantitative"}}}
 ]},
{"width": 542, "height": 327, "title": {"text": "T185b50d10t025c11n1024_#L_17\u00a0 16_0_3_391\u00a0\u00a0\u00a0\u00a0 Red.ChiSq=\u00a0\u00a0 0.712"},
 "layer": [
  {"data": {"name": "g5"}, "mark": {"type": "line", "color": "#36369a", "strokeWidth": 1},
   "encoding": {"x": {"field": "x", "type": "quantitative", "scale": {"domain": [-3.66, 67.1], "nice": false, "zero": false}, "axis": {"title": "Readout", "labelOverlap": false, "tickCount": 40, "values": [-2,0,2,4,6,8,10,12,14,16,18,20,22,24,26,28,30,32,34,36,38,40,42,44,46,48,50,52,54,56,58,60,62,64,66]}},
    "y": {"field": "v", "type": "quantitative", "scale": {"domain": [2.00657, 2.04504], "nice": false, "zero": false}, "axis": {"title": "Volt & (residual*10)", "labelOverlap": false, "tickCount": 20, "values": [2, 2.01, 2.02, 2.03, 2.04, 2.05], "format": ".2~f"}},
    "order": {"field": "i", "type": "quantitative"}}},
  {"data": {"values": [{"x": 0, "x2": 61, "v": 2.02663}]}, "mark": {"type": "rule", "color": "#36369a", "strokeWidth": 1}, "encoding": {"x": {"field": "x", "type": "quantitative"}, "x2": {"field": "x2"}, "y": {"field": "v", "type": "quantitative"}}},
  {"data": {"name": "p5"}, "mark": {"type": "line", "color": "#b02a2a", "strokeWidth": 1}, "encoding": {"x": {"field": "x", "type": "quantitative"}, "y": {"field": "f", "type": "quantitative"}}},
  {"data": {"name": "p5"}, "mark": {"type": "square", "color": "#ff0000", "size": 9, "opacity": 1}, "encoding": {"x": {"field": "x", "type": "quantitative"}, "y": {"field": "f", "type": "quantitative"}}},
  {"data": {"name": "p5"}, "transform": [{"filter": "isValid(datum.f)"}], "mark": {"type": "square", "size": 18, "opacity": 1}, "encoding": {"x": {"field": "x", "type": "quantitative"}, "y": {"field": "d", "type": "quantitative"}, "color": {"datum": "data fitted", "type": "nominal", "scale": {"domain": ["T185b50d10t025c11n1024_#L_17", "data fitted", "fit", "residual", "mean", "gauss"], "range": ["#000000", "#000000", "#ff0000", "#0000ff", "#0000ff", "#0000ff"]}, "legend": {"title": null, "orient": "none", "legendX": 108, "legendY": 359, "direction": "horizontal"}}}},
  {"data": {"name": "p5"}, "mark": {"type": "line", "color": "#4848aa", "strokeWidth": 1}, "encoding": {"x": {"field": "x", "type": "quantitative"}, "y": {"field": "r", "type": "quantitative"}}},
  {"data": {"name": "p5"}, "mark": {"type": "square", "color": "#0000ff", "size": 9, "opacity": 1}, "encoding": {"x": {"field": "x", "type": "quantitative"}, "y": {"field": "r", "type": "quantitative"}}},
  {"data": {"name": "p5"}, "mark": {"type": "square", "color": "#000000", "size": 3, "opacity": 1}, "encoding": {"x": {"field": "x", "type": "quantitative"}, "y": {"field": "d", "type": "quantitative"}}}
 ]},
{"width": 538, "height": 327, "title": {"text": "T185b50d10t025c11n1024_#L_21\u00a0 20_0_3_476\u00a0\u00a0\u00a0\u00a0 Red.ChiSq=\u00a0\u00a0 0.597"},
 "layer": [
  {"data": {"name": "g6"}, "mark": {"type": "line", "color": "#36369a", "strokeWidth": 1},
   "encoding": {"x": {"field": "x", "type": "quantitative", "scale": {"domain": [-3.66, 66.58], "nice": false, "zero": false}, "axis": {"title": "Readout", "labelOverlap": false, "tickCount": 40, "values": [-2,0,2,4,6,8,10,12,14,16,18,20,22,24,26,28,30,32,34,36,38,40,42,44,46,48,50,52,54,56,58,60,62,64,66]}},
    "y": {"field": "v", "type": "quantitative", "scale": {"domain": [2.00581, 2.04335], "nice": false, "zero": false}, "axis": {"title": "Volt & (residual*10)", "labelOverlap": false, "tickCount": 20, "values": [2, 2.01, 2.02, 2.03, 2.04, 2.05], "format": ".2~f"}},
    "order": {"field": "i", "type": "quantitative"}}},
  {"data": {"values": [{"x": 0, "x2": 61, "v": 2.0237}]}, "mark": {"type": "rule", "color": "#36369a", "strokeWidth": 1}, "encoding": {"x": {"field": "x", "type": "quantitative"}, "x2": {"field": "x2"}, "y": {"field": "v", "type": "quantitative"}}},
  {"data": {"name": "p6"}, "mark": {"type": "line", "color": "#b02a2a", "strokeWidth": 1}, "encoding": {"x": {"field": "x", "type": "quantitative"}, "y": {"field": "f", "type": "quantitative"}}},
  {"data": {"name": "p6"}, "mark": {"type": "square", "color": "#ff0000", "size": 9, "opacity": 1}, "encoding": {"x": {"field": "x", "type": "quantitative"}, "y": {"field": "f", "type": "quantitative"}}},
  {"data": {"name": "p6"}, "transform": [{"filter": "isValid(datum.f)"}], "mark": {"type": "square", "size": 18, "opacity": 1}, "encoding": {"x": {"field": "x", "type": "quantitative"}, "y": {"field": "d", "type": "quantitative"}, "color": {"datum": "data fitted", "type": "nominal", "scale": {"domain": ["T185b50d10t025c11n1024_#L_21", "data fitted", "fit", "residual", "mean", "gauss"], "range": ["#000000", "#000000", "#ff0000", "#0000ff", "#0000ff", "#0000ff"]}, "legend": {"title": null, "orient": "none", "legendX": 108, "legendY": 359, "direction": "horizontal"}}}},
  {"data": {"name": "p6"}, "mark": {"type": "line", "color": "#4848aa", "strokeWidth": 1}, "encoding": {"x": {"field": "x", "type": "quantitative"}, "y": {"field": "r", "type": "quantitative"}}},
  {"data": {"name": "p6"}, "mark": {"type": "square", "color": "#0000ff", "size": 9, "opacity": 1}, "encoding": {"x": {"field": "x", "type": "quantitative"}, "y": {"field": "r", "type": "quantitative"}}},
  {"data": {"name": "p6"}, "mark": {"type": "square", "color": "#000000", "size": 3, "opacity": 1}, "encoding": {"x": {"field": "x", "type": "quantitative"}, "y": {"field": "d", "type": "quantitative"}}}
 ]},
{"width": 542, "height": 327, "title": {"text": "T185b50d10t025c11n1024_#L_25\u00a0 24_0_3_381\u00a0\u00a0\u00a0\u00a0 Red.ChiSq=\u00a0\u00a0 0.553"},
 "layer": [
  {"data": {"name": "g7"}, "mark": {"type": "line", "color": "#36369a", "strokeWidth": 1},
   "encoding": {"x": {"field": "x", "type": "quantitative", "scale": {"domain": [-3.66, 67.1], "nice": false, "zero": false}, "axis": {"title": "Readout", "labelOverlap": false, "tickCount": 40, "values": [-2,0,2,4,6,8,10,12,14,16,18,20,22,24,26,28,30,32,34,36,38,40,42,44,46,48,50,52,54,56,58,60,62,64,66]}},
    "y": {"field": "v", "type": "quantitative", "scale": {"domain": [1.99715, 2.04241], "nice": false, "zero": false}, "axis": {"title": "Volt & (residual*10)", "labelOverlap": false, "tickCount": 20, "values": [2, 2.01, 2.02, 2.03, 2.04, 2.05], "format": ".2~f"}},
    "order": {"field": "i", "type": "quantitative"}}},
  {"data": {"values": [{"x": 0, "x2": 61, "v": 2.02}]}, "mark": {"type": "rule", "color": "#36369a", "strokeWidth": 1}, "encoding": {"x": {"field": "x", "type": "quantitative"}, "x2": {"field": "x2"}, "y": {"field": "v", "type": "quantitative"}}},
  {"data": {"name": "p7"}, "mark": {"type": "line", "color": "#b02a2a", "strokeWidth": 1}, "encoding": {"x": {"field": "x", "type": "quantitative"}, "y": {"field": "f", "type": "quantitative"}}},
  {"data": {"name": "p7"}, "mark": {"type": "square", "color": "#ff0000", "size": 9, "opacity": 1}, "encoding": {"x": {"field": "x", "type": "quantitative"}, "y": {"field": "f", "type": "quantitative"}}},
  {"data": {"name": "p7"}, "transform": [{"filter": "isValid(datum.f)"}], "mark": {"type": "square", "size": 18, "opacity": 1}, "encoding": {"x": {"field": "x", "type": "quantitative"}, "y": {"field": "d", "type": "quantitative"}, "color": {"datum": "data fitted", "type": "nominal", "scale": {"domain": ["T185b50d10t025c11n1024_#L_25", "data fitted", "fit", "residual", "mean", "gauss"], "range": ["#000000", "#000000", "#ff0000", "#0000ff", "#0000ff", "#0000ff"]}, "legend": {"title": null, "orient": "none", "legendX": 108, "legendY": 359, "direction": "horizontal"}}}},
  {"data": {"name": "p7"}, "mark": {"type": "line", "color": "#4848aa", "strokeWidth": 1}, "encoding": {"x": {"field": "x", "type": "quantitative"}, "y": {"field": "r", "type": "quantitative"}}},
  {"data": {"name": "p7"}, "mark": {"type": "square", "color": "#0000ff", "size": 9, "opacity": 1}, "encoding": {"x": {"field": "x", "type": "quantitative"}, "y": {"field": "r", "type": "quantitative"}}},
  {"data": {"name": "p7"}, "mark": {"type": "square", "color": "#000000", "size": 3, "opacity": 1}, "encoding": {"x": {"field": "x", "type": "quantitative"}, "y": {"field": "d", "type": "quantitative"}}}
 ]},
{"width": 538, "height": 327, "title": {"text": "T185b50d10t025c11n1024_#L_29\u00a0 28_0_3_681\u00a0\u00a0\u00a0\u00a0 Red.ChiSq=\u00a0\u00a0 0.556"},
 "layer": [
  {"data": {"name": "g8"}, "mark": {"type": "line", "color": "#36369a", "strokeWidth": 1},
   "encoding": {"x": {"field": "x", "type": "quantitative", "scale": {"domain": [-3.66, 66.58], "nice": false, "zero": false}, "axis": {"title": "Readout", "labelOverlap": false, "tickCount": 40, "values": [-2,0,2,4,6,8,10,12,14,16,18,20,22,24,26,28,30,32,34,36,38,40,42,44,46,48,50,52,54,56,58,60,62,64,66]}},
    "y": {"field": "v", "type": "quantitative", "scale": {"domain": [1.99146, 2.04202], "nice": false, "zero": false}, "axis": {"title": "Volt & (residual*10)", "labelOverlap": false, "tickCount": 20, "values": [2, 2.01, 2.02, 2.03, 2.04, 2.05], "format": ".2~f"}},
    "order": {"field": "i", "type": "quantitative"}}},
  {"data": {"values": [{"x": 0, "x2": 61, "v": 2.01825}]}, "mark": {"type": "rule", "color": "#36369a", "strokeWidth": 1}, "encoding": {"x": {"field": "x", "type": "quantitative"}, "x2": {"field": "x2"}, "y": {"field": "v", "type": "quantitative"}}},
  {"data": {"name": "p8"}, "mark": {"type": "line", "color": "#b02a2a", "strokeWidth": 1}, "encoding": {"x": {"field": "x", "type": "quantitative"}, "y": {"field": "f", "type": "quantitative"}}},
  {"data": {"name": "p8"}, "mark": {"type": "square", "color": "#ff0000", "size": 9, "opacity": 1}, "encoding": {"x": {"field": "x", "type": "quantitative"}, "y": {"field": "f", "type": "quantitative"}}},
  {"data": {"name": "p8"}, "transform": [{"filter": "isValid(datum.f)"}], "mark": {"type": "square", "size": 18, "opacity": 1}, "encoding": {"x": {"field": "x", "type": "quantitative"}, "y": {"field": "d", "type": "quantitative"}, "color": {"datum": "data fitted", "type": "nominal", "scale": {"domain": ["T185b50d10t025c11n1024_#L_29", "data fitted", "fit", "residual", "mean", "gauss"], "range": ["#000000", "#000000", "#ff0000", "#0000ff", "#0000ff", "#0000ff"]}, "legend": {"title": null, "orient": "none", "legendX": 108, "legendY": 359, "direction": "horizontal"}}}},
  {"data": {"name": "p8"}, "mark": {"type": "line", "color": "#4848aa", "strokeWidth": 1}, "encoding": {"x": {"field": "x", "type": "quantitative"}, "y": {"field": "r", "type": "quantitative"}}},
  {"data": {"name": "p8"}, "mark": {"type": "square", "color": "#0000ff", "size": 9, "opacity": 1}, "encoding": {"x": {"field": "x", "type": "quantitative"}, "y": {"field": "r", "type": "quantitative"}}},
  {"data": {"name": "p8"}, "mark": {"type": "square", "color": "#000000", "size": 3, "opacity": 1}, "encoding": {"x": {"field": "x", "type": "quantitative"}, "y": {"field": "d", "type": "quantitative"}}}
 ]}
],
"config": {
 "view": {"stroke": "#999999", "strokeWidth": 1},
 "axis": {"grid": true, "gridColor": "#c6c6c6", "gridDash": [2, 2], "gridWidth": 1, "domain": false, "ticks": true, "tickColor": "#777777", "tickSize": 3, "labelFont": "Liberation Mono", "labelFontSize": 7.5, "labelColor": "#444444", "labelPadding": 2, "labelFlush": false, "labelOverlap": false, "titleFont": "Liberation Mono", "titleFontSize": 12, "titleFontWeight": "normal", "titleColor": "#555555"},
 "axisX": {"titlePadding": 1},
 "axisY": {"minExtent": 20, "maxExtent": 20, "titlePadding": 5},
 "title": {"font": "Liberation Sans", "fontSize": 14.3, "fontWeight": "bold", "color": "#000000", "anchor": "middle", "frame": "bounds", "offset": 4},
 "legend": {"symbolType": "square", "symbolSize": 30, "symbolStrokeWidth": 0, "labelFont": "Liberation Sans", "labelFontSize": 7, "labelColor": "#000000", "labelOffset": 2, "labelLimit": 400, "columnPadding": 5, "padding": 1.5, "strokeColor": "#8a8a8a", "fillColor": "#ffffff"}
}
}
